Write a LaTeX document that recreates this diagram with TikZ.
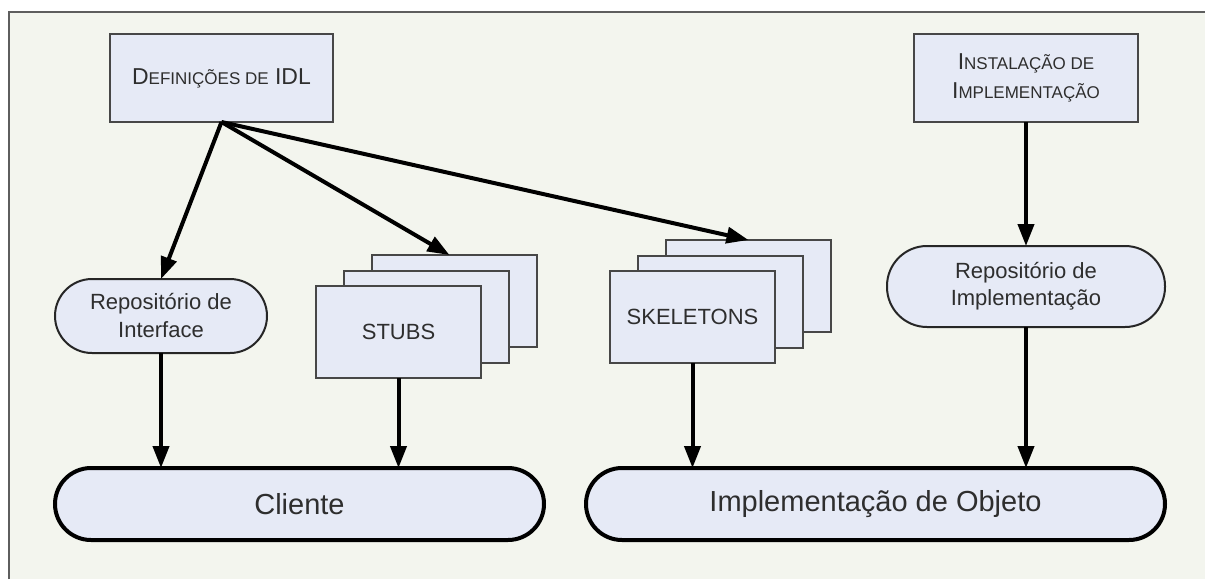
\documentclass[tikz,border=0pt]{standalone}
\usepackage{fontspec}
\setmainfont{Liberation Sans}
\usetikzlibrary{arrows.meta,calc}

\definecolor{panelbg}{HTML}{F3F5EE}
\definecolor{boxfill}{HTML}{E6EAF6}
\definecolor{txtgray}{HTML}{2E2E2E}
\definecolor{boxedge}{HTML}{474747}
\definecolor{frameedge}{HTML}{5E5E5E}

% small-caps look built from two sizes of capitals
\newcommand\dcapA[1]{{\fontsize{23}{23}\selectfont #1}}
\newcommand\dcapB[1]{{\fontsize{17}{17}\selectfont #1}}

\tikzset{
  every node/.style={inner sep=0pt, outer sep=0pt, align=center, text=txtgray},
  rectbox/.style={draw=boxedge, line width=2pt, fill=boxfill,
    minimum width=#1},
  rectbox/.default=165pt,
  repopill/.style={draw=black!85, line width=2pt, fill=boxfill,
    rounded corners=37pt, font=\fontsize{22}{28}\selectfont},
  mainpill/.style={draw=black, line width=4pt, fill=boxfill,
    rounded corners=36pt, minimum height=72pt,
    font=\fontsize{29}{34}\selectfont},
  flow/.style={line width=4pt, draw=black,
    -{Triangle[length=22pt,width=16pt]}}
}

\begin{document}
\begin{tikzpicture}[x=1pt,y=-1pt]
  \useasboundingbox (0,0) rectangle (1205,579);
  % panel
  \fill[white] (0,0) rectangle (1205,579);
  \fill[panelbg] (9,12) rectangle (1205,579);
  \draw[frameedge, line width=1.5pt] (9,579) -- (9,12) -- (1205,12);

  % top boxes
  \node[rectbox=223pt, minimum height=88pt, font=\fontsize{23}{23}\selectfont]
    (def) at (221.5,78)
    {\dcapA{D}\dcapB{EFINIÇÕES DE} \dcapA{IDL}};
  \node[rectbox=224pt, minimum height=88pt,
        font=\fontsize{17}{29}\selectfont] (inst) at (1026,78)
    {\dcapA{I}\dcapB{NSTALAÇÃO DE}\\[0pt]\dcapA{I}\dcapB{MPLEMENTAÇÃO}};

  % repositories
  \node[repopill, minimum width=212pt, minimum height=74pt] (repI) at (161,316)
    {Repositório de\\Interface};
  \node[repopill, minimum width=278pt, minimum height=81pt,
        rounded corners=40pt, font=\fontsize{22}{27}\selectfont] (repM) at (1026,286.5)
    {Repositório de\\Implementação};

  % stub pages
  \node[rectbox, minimum height=92pt] (stubsC) at (454.5,301) {};
  \node[rectbox, minimum height=92pt] (stubsB) at (426.5,316.5) {};
  \node[rectbox, minimum height=92pt, font=\fontsize{22}{26}\selectfont]
    (stubsA) at (398.5,332) {STUBS};

  % skeleton pages
  \node[rectbox, minimum height=92pt] (skelC) at (748.5,286) {};
  \node[rectbox, minimum height=92pt] (skelB) at (720.5,301.5) {};
  \node[rectbox, minimum height=92pt, font=\fontsize{22}{26}\selectfont]
    (skelA) at (692.5,317) {SKELETONS};

  % bottom row
  \node[mainpill, minimum width=489pt] (cliente) at (299.5,504) {Cliente};
  \node[mainpill, minimum width=579pt] (implobj) at (875.5,504)
    {Implementação de Objeto};

  % connectors
  \draw[flow] (def.south) -- (repI.north);
  \draw[flow] (def.south) -- ($(stubsC.north)+(-5,0)$);
  \draw[flow] (def.south) -- (skelC.north);
  \draw[flow] (inst.south) -- (repM.north);
  \draw[flow] (repI.south) -- (repI.south |- cliente.north);
  \draw[flow] (stubsA.south) -- (stubsA.south |- cliente.north);
  \draw[flow] (skelA.south) -- (skelA.south |- implobj.north);
  \draw[flow] (repM.south) -- (repM.south |- implobj.north);
\end{tikzpicture}
\end{document}
